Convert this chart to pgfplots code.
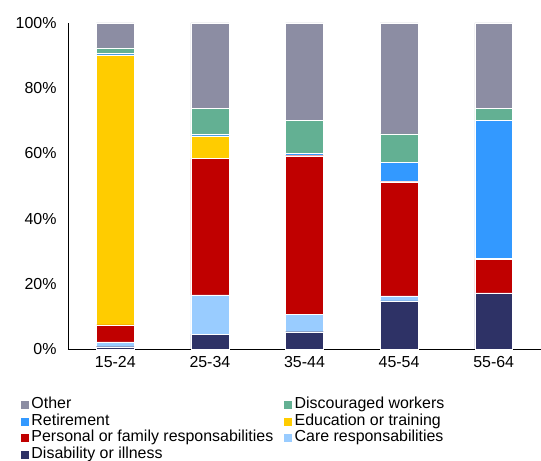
\documentclass[border=0pt]{standalone}
\usepackage{pgfplots}
\pgfplotsset{compat=1.18}
\usepackage{fontspec}
\setmainfont{Liberation Sans}
\definecolor{cOther}{RGB}{140,141,163}
\definecolor{cDisc}{RGB}{99,176,147}
\definecolor{cRet}{RGB}{51,153,255}
\definecolor{cEdu}{RGB}{255,204,0}
\definecolor{cPers}{RGB}{192,0,0}
\definecolor{cCare}{RGB}{153,204,255}
\definecolor{cDis}{RGB}{46,50,102}
\begin{document}
\begin{tikzpicture}
\begin{axis}[
  scale only axis,
  width=473bp, height=326bp,
  ybar stacked,
  bar width=0.4,
  xmin=-0.5, xmax=4.5,
  ymin=0, ymax=100,
  xtick={0,1,2,3,4},
  xticklabels={15-24,25-34,35-44,45-54,55-64},
  ytick={0,20,40,60,80,100},
  yticklabels={0\%,20\%,40\%,60\%,80\%,100\%},
  axis x line*=bottom, axis y line*=left,
  axis line style={line width=0.8pt},
  major tick length=0pt,
  tick label style={font=\fontsize{16}{17}\selectfont},
  yticklabel style={xshift=-8bp},
  xticklabel style={yshift=-4bp},
  reverse legend,
  legend columns=2,
  legend cell align=left,
  legend image code/.code={\fill[#1] (0bp,-4.5bp) rectangle (9bp,4.5bp);},
  legend style={at={(-0.1015,-0.145)}, anchor=north west, draw=none, fill=none,
    inner sep=0pt, row sep=0pt,
    font=\fontsize{16}{17}\selectfont,
    nodes={inner ysep=1bp, inner xsep=2bp, text height=11.3bp, text depth=3.2bp},
    /tikz/every even column/.append style={column sep=8bp}},
  every axis plot/.append style={draw=white, line width=0.3pt},
]
\addplot[fill=cDis] coordinates {(0,0.7) (1,4.6) (2,5.3) (3,14.8) (4,17.1)};
\addlegendentry{Disability or illness}
\addplot[fill=cCare] coordinates {(0,1.5) (1,12.0) (2,5.3) (3,1.5) (4,0.1)};
\addlegendentry{Care responsabilities}
\addplot[fill=cPers] coordinates {(0,5.2) (1,41.9) (2,48.7) (3,35.0) (4,10.3)};
\addlegendentry{Personal or family responsabilities}
\addplot[fill=cEdu] coordinates {(0,82.8) (1,6.9) (2,0.2) (3,0.1) (4,0.4)};
\addlegendentry{Education or training}
\addplot[fill=cRet] coordinates {(0,0.5) (1,0.5) (2,0.5) (3,5.8) (4,42.2)};
\addlegendentry{Retirement}
\addplot[fill=cDisc] coordinates {(0,1.7) (1,7.9) (2,10.2) (3,8.8) (4,3.8)};
\addlegendentry{Discouraged workers}
\addplot[fill=cOther] coordinates {(0,7.6) (1,26.2) (2,29.8) (3,34.0) (4,26.1)};
\addlegendentry{Other}
\end{axis}
\pgfresetboundingbox
\path (-68bp,-112bp) rectangle (473bp,349bp);
\end{tikzpicture}
\end{document}
